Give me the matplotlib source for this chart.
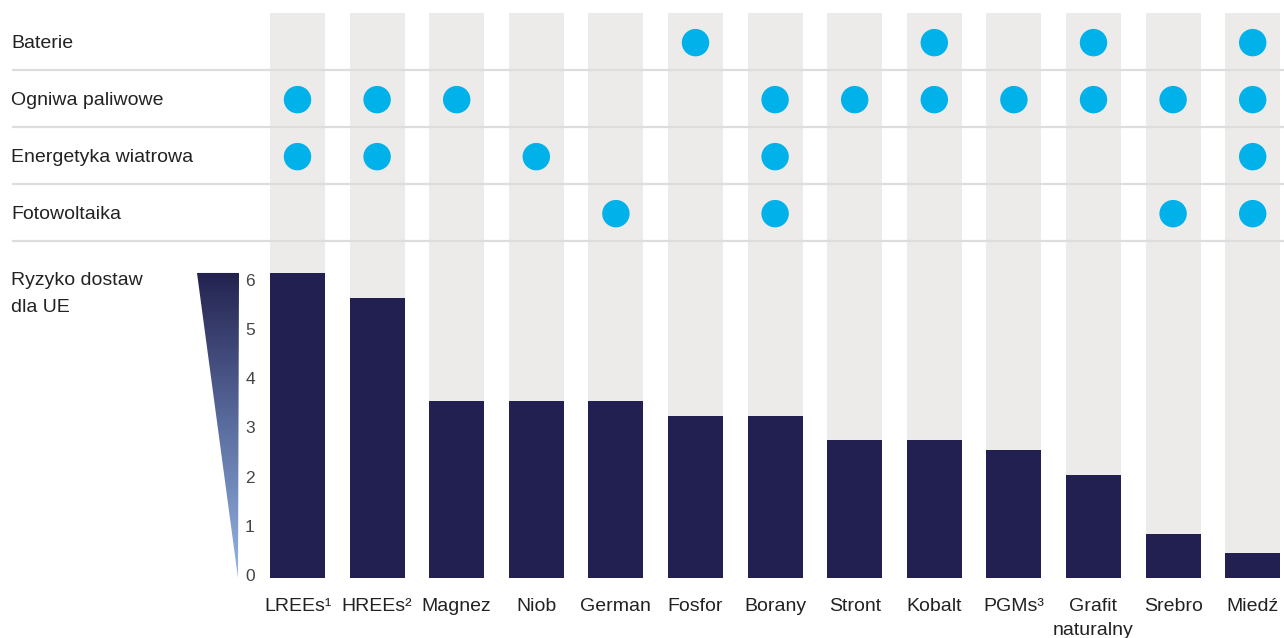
import numpy as np
import matplotlib
matplotlib.use("Agg")
import matplotlib.pyplot as plt
from matplotlib.colors import LinearSegmentedColormap
from matplotlib.patches import Polygon

plt.rcParams['font.family'] = ['Liberation Sans', 'DejaVu Sans']

materials = ["LREEs¹", "HREEs²", "Magnez", "Niob", "German", "Fosfor", "Borany",
             "Stront", "Kobalt", "PGMs³", "Grafit\nnaturalny", "Srebro", "Miedź"]
supply_risk = [6.2, 5.7, 3.6, 3.6, 3.6, 3.3, 3.3, 2.8, 2.8, 2.6, 2.1, 0.9, 0.5]

technologies = ["Baterie", "Ogniwa paliwowe", "Energetyka wiatrowa", "Fotowoltaika"]
usage = [
    [0, 0, 0, 0, 0, 1, 0, 0, 1, 0, 1, 0, 1],
    [1, 1, 1, 0, 0, 0, 1, 1, 1, 1, 1, 1, 1],
    [1, 1, 0, 1, 0, 0, 1, 0, 0, 0, 0, 0, 1],
    [0, 0, 0, 0, 1, 0, 1, 0, 0, 0, 0, 1, 1],
]
risk_ticks = [0, 1, 2, 3, 4, 5, 6]
risk_label = "Ryzyko dostaw\ndla UE"

NAVY = "#222050"
COL_BG = "#edebea"
DOT = "#00b2e9"
RULE = "#dddddd"
TXT = "#222222"

W, H = 1284, 638
fig = plt.figure(figsize=(W / 100, H / 100), dpi=100)

# column geometry (x in column-index units)
x0_px, step_px = 297.5, 79.6
xlim = (-x0_px / step_px, (W - x0_px) / step_px)
bw = 55 / step_px
x = np.arange(len(materials))

# bottom panel: supply risk bars
top_px, mid_px, base_px = 13, 241, 578
px_per_unit = 49.2
ax_b = fig.add_axes([0, 1 - base_px / H, 1, (base_px - mid_px) / H])
ax_b.patch.set_visible(False)
ymax = (base_px - mid_px) / px_per_unit
for s in ax_b.spines.values():
    s.set_visible(False)
ax_b.set_yticks([])
ax_b.bar(x, ymax, width=bw, color=COL_BG, zorder=1)
ax_b.bar(x, supply_risk, width=bw, color=NAVY, zorder=2)
ax_b.set_xticks(x, materials, fontsize=14, color=TXT, linespacing=1.5)
ax_b.tick_params(axis="x", length=0, pad=14.5)

# scale numbers
tick_x = (250 - x0_px) / step_px
for t in risk_ticks:
    ax_b.text(tick_x, t + 0.03, str(t), ha="center", va="center", fontsize=12.5, color="#444444",
              clip_on=False)

# gradient wedge next to the scale
top_v = max(supply_risk)
tl = (197 - x0_px) / step_px
tr = (239 - x0_px) / step_px
bt = (238 - x0_px) / step_px
wedge = Polygon([(tl, top_v), (tr, top_v), (bt, 0)], closed=True, facecolor="none",
                edgecolor="none")
ax_b.add_patch(wedge)
cmap = LinearSegmentedColormap.from_list("risk", ["#94b6e4", "#5a6c9e", "#23224f"])
grad = np.linspace(0, 1, 256).reshape(-1, 1)
im = ax_b.imshow(grad, extent=(tl, tr, 0, top_v), origin="lower", cmap=cmap, aspect="auto",
                 zorder=2)
im.set_clip_path(wedge)
ax_b.set_xlim(*xlim)
ax_b.set_ylim(0, ymax)

# top panel: technology matrix
ax_m = fig.add_axes([0, 1 - mid_px / H, 1, (mid_px - top_px) / H])
ax_m.patch.set_visible(False)
ax_m.set_xlim(*xlim)
ax_m.set_ylim(len(technologies) - 0.5, -0.5)
ax_m.axis("off")
ax_m.bar(x, len(technologies), bottom=-0.5, width=bw, color=COL_BG, zorder=1)
for r, name in enumerate(technologies):
    ax_m.axhline(r + 0.5, xmin=13 / W, xmax=1, color=RULE, lw=1.6, zorder=2, clip_on=False)
    ax_m.text(11 / W, r + 0.03, name, transform=ax_m.get_yaxis_transform(), ha="left",
              va="center", fontsize=14, color=TXT)
    cols = [i for i, v in enumerate(usage[r]) if v]
    ax_m.scatter(cols, [r + 0.02] * len(cols), s=390, color=DOT, edgecolors="none", zorder=3)

fig.text(11 / W, 1 - 272 / H, risk_label, ha="left", va="top", fontsize=14, color=TXT,
         linespacing=1.75)

fig.savefig("out.png", dpi=100)
